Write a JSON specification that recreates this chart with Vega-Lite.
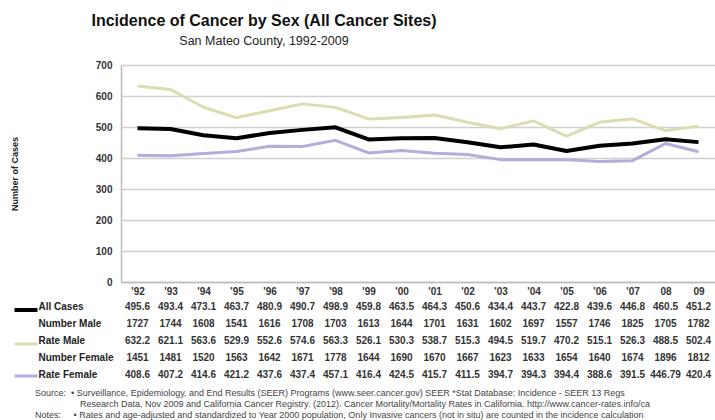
{
  "$schema": "https://vega.github.io/schema/vega-lite/v6.json",
  "padding": {"left": 10, "top": 12, "right": 0, "bottom": 0},
  "background": "white",
  "config": {"font": "Liberation Sans", "view": {"stroke": null}},
  "title": {
    "text": "Incidence of Cancer by Sex (All Cancer Sites)",
    "subtitle": "San Mateo County, 1992-2009",
    "font": "Liberation Sans",
    "fontSize": 16,
    "fontWeight": "bold",
    "color": "#111111",
    "subtitleFont": "Liberation Sans",
    "subtitleFontSize": 12.5,
    "subtitleColor": "#222222",
    "subtitlePadding": 6,
    "anchor": "middle",
    "frame": "group",
    "dx": -154,
    "offset": 13
  },
  "datasets": {
    "t": [
      {"row": "All Cases", "year": "'92", "value": 495.6},
      {"row": "All Cases", "year": "'93", "value": 493.4},
      {"row": "All Cases", "year": "'94", "value": 473.1},
      {"row": "All Cases", "year": "'95", "value": 463.7},
      {"row": "All Cases", "year": "'96", "value": 480.9},
      {"row": "All Cases", "year": "'97", "value": 490.7},
      {"row": "All Cases", "year": "'98", "value": 498.9},
      {"row": "All Cases", "year": "'99", "value": 459.8},
      {"row": "All Cases", "year": "'00", "value": 463.5},
      {"row": "All Cases", "year": "'01", "value": 464.3},
      {"row": "All Cases", "year": "'02", "value": 450.6},
      {"row": "All Cases", "year": "'03", "value": 434.4},
      {"row": "All Cases", "year": "'04", "value": 443.7},
      {"row": "All Cases", "year": "'05", "value": 422.8},
      {"row": "All Cases", "year": "'06", "value": 439.6},
      {"row": "All Cases", "year": "'07", "value": 446.8},
      {"row": "All Cases", "year": "08", "value": 460.5},
      {"row": "All Cases", "year": "09", "value": 451.2},
      {"row": "Number Male", "year": "'92", "value": 1727},
      {"row": "Number Male", "year": "'93", "value": 1744},
      {"row": "Number Male", "year": "'94", "value": 1608},
      {"row": "Number Male", "year": "'95", "value": 1541},
      {"row": "Number Male", "year": "'96", "value": 1616},
      {"row": "Number Male", "year": "'97", "value": 1708},
      {"row": "Number Male", "year": "'98", "value": 1703},
      {"row": "Number Male", "year": "'99", "value": 1613},
      {"row": "Number Male", "year": "'00", "value": 1644},
      {"row": "Number Male", "year": "'01", "value": 1701},
      {"row": "Number Male", "year": "'02", "value": 1631},
      {"row": "Number Male", "year": "'03", "value": 1602},
      {"row": "Number Male", "year": "'04", "value": 1697},
      {"row": "Number Male", "year": "'05", "value": 1557},
      {"row": "Number Male", "year": "'06", "value": 1746},
      {"row": "Number Male", "year": "'07", "value": 1825},
      {"row": "Number Male", "year": "08", "value": 1705},
      {"row": "Number Male", "year": "09", "value": 1782},
      {"row": "Rate Male", "year": "'92", "value": 632.2},
      {"row": "Rate Male", "year": "'93", "value": 621.1},
      {"row": "Rate Male", "year": "'94", "value": 563.6},
      {"row": "Rate Male", "year": "'95", "value": 529.9},
      {"row": "Rate Male", "year": "'96", "value": 552.6},
      {"row": "Rate Male", "year": "'97", "value": 574.6},
      {"row": "Rate Male", "year": "'98", "value": 563.3},
      {"row": "Rate Male", "year": "'99", "value": 526.1},
      {"row": "Rate Male", "year": "'00", "value": 530.3},
      {"row": "Rate Male", "year": "'01", "value": 538.7},
      {"row": "Rate Male", "year": "'02", "value": 515.3},
      {"row": "Rate Male", "year": "'03", "value": 494.5},
      {"row": "Rate Male", "year": "'04", "value": 519.7},
      {"row": "Rate Male", "year": "'05", "value": 470.2},
      {"row": "Rate Male", "year": "'06", "value": 515.1},
      {"row": "Rate Male", "year": "'07", "value": 526.3},
      {"row": "Rate Male", "year": "08", "value": 488.5},
      {"row": "Rate Male", "year": "09", "value": 502.4},
      {"row": "Number Female", "year": "'92", "value": 1451},
      {"row": "Number Female", "year": "'93", "value": 1481},
      {"row": "Number Female", "year": "'94", "value": 1520},
      {"row": "Number Female", "year": "'95", "value": 1563},
      {"row": "Number Female", "year": "'96", "value": 1642},
      {"row": "Number Female", "year": "'97", "value": 1671},
      {"row": "Number Female", "year": "'98", "value": 1778},
      {"row": "Number Female", "year": "'99", "value": 1644},
      {"row": "Number Female", "year": "'00", "value": 1690},
      {"row": "Number Female", "year": "'01", "value": 1670},
      {"row": "Number Female", "year": "'02", "value": 1667},
      {"row": "Number Female", "year": "'03", "value": 1623},
      {"row": "Number Female", "year": "'04", "value": 1633},
      {"row": "Number Female", "year": "'05", "value": 1654},
      {"row": "Number Female", "year": "'06", "value": 1640},
      {"row": "Number Female", "year": "'07", "value": 1674},
      {"row": "Number Female", "year": "08", "value": 1896},
      {"row": "Number Female", "year": "09", "value": 1812},
      {"row": "Rate Female", "year": "'92", "value": 408.6},
      {"row": "Rate Female", "year": "'93", "value": 407.2},
      {"row": "Rate Female", "year": "'94", "value": 414.6},
      {"row": "Rate Female", "year": "'95", "value": 421.2},
      {"row": "Rate Female", "year": "'96", "value": 437.6},
      {"row": "Rate Female", "year": "'97", "value": 437.4},
      {"row": "Rate Female", "year": "'98", "value": 457.1},
      {"row": "Rate Female", "year": "'99", "value": 416.4},
      {"row": "Rate Female", "year": "'00", "value": 424.5},
      {"row": "Rate Female", "year": "'01", "value": 415.7},
      {"row": "Rate Female", "year": "'02", "value": 411.5},
      {"row": "Rate Female", "year": "'03", "value": 394.7},
      {"row": "Rate Female", "year": "'04", "value": 394.3},
      {"row": "Rate Female", "year": "'05", "value": 394.4},
      {"row": "Rate Female", "year": "'06", "value": 388.6},
      {"row": "Rate Female", "year": "'07", "value": 391.5},
      {"row": "Rate Female", "year": "08", "value": 446.79},
      {"row": "Rate Female", "year": "09", "value": 420.4}
    ]
  },
  "data": {"name": "t"},
  "spacing": 2,
  "vconcat": [
    {
      "width": 594,
      "height": 217,
      "transform": [{"filter": {"field": "row", "oneOf": ["All Cases", "Rate Male", "Rate Female"]}}],
      "mark": {"type": "line", "strokeJoin": "round"},
      "encoding": {
        "x": {
          "field": "year", "type": "ordinal",
          "sort": ["'92","'93","'94","'95","'96","'97","'98","'99","'00","'01","'02","'03","'04","'05","'06","'07","08","09"],
          "scale": {"type": "point", "padding": 0.5},
          "axis": {"title": null, "labelAngle": 0, "ticks": false, "domain": true, "domainColor": "#bbbbbb", "domainWidth": 1.5, "labelPadding": 4, "labelFontSize": 10, "labelFontWeight": "bold", "labelColor": "#333333", "grid": false}
        },
        "y": {
          "field": "value", "type": "quantitative",
          "scale": {"domain": [0, 700]},
          "axis": {"title": "Number of Cases", "values": [0,100,200,300,400,500,600,700], "ticks": false, "domain": true, "domainColor": "#bbbbbb", "domainWidth": 1.5, "grid": true, "gridColor": "#d0d0d0", "gridWidth": 1.3, "labelPadding": 9, "labelFontSize": 10, "labelFontWeight": "bold", "labelColor": "#333333", "titleFontSize": 9, "titleFontWeight": "bold", "titleColor": "#222222", "minExtent": 100, "maxExtent": 100, "titlePadding": 2}
        },
        "color": {
          "field": "row", "type": "nominal",
          "scale": {"domain": ["All Cases", "Rate Male", "Rate Female"], "range": ["#000000", "#dcdcb2", "#b2aedc"]},
          "legend": {"orient": "none", "legendX": -100, "legendY": 240, "title": null, "symbolType": "stroke", "symbolSize": 529, "symbolStrokeWidth": 3, "labelExpr": "''", "rowPadding": 20, "padding": 0,
            "encode": {"symbols": {"update": {"strokeWidth": {"signal": "datum.value === 'All Cases' ? 4 : 3"}}}}}
        },
        "strokeWidth": {"condition": {"test": "datum.row === 'All Cases'", "value": 4}, "value": 3}
      }
    },
    {
      "width": 594,
      "height": 85,
      "mark": {"type": "text", "fontSize": 10, "fontWeight": "bold", "color": "#333333"},
      "encoding": {
        "x": {
          "field": "year", "type": "ordinal",
          "sort": ["'92","'93","'94","'95","'96","'97","'98","'99","'00","'01","'02","'03","'04","'05","'06","'07","08","09"],
          "scale": {"type": "point", "padding": 0.5},
          "axis": null
        },
        "y": {
          "field": "row", "type": "nominal",
          "sort": ["All Cases", "Number Male", "Rate Male", "Number Female", "Rate Female"],
          "scale": {"type": "point", "padding": 0.5},
          "axis": {"title": "\u00a0", "domain": false, "ticks": false, "grid": false, "labelAlign": "left", "labelPadding": 83, "labelFontSize": 10, "labelFontWeight": "bold", "labelColor": "#222222", "minExtent": 100, "maxExtent": 100, "titlePadding": 2, "titleFontSize": 9}
        },
        "text": {"field": "value", "type": "nominal"}
      },
      "title": {
        "text": [
          "Source:\u00a0\u00a0• Surveillance, Epidemiology, and End Results (SEER) Programs (www.seer.cancer.gov) SEER *Stat Database: Incidence - SEER 13 Regs",
          "\u200b\u00a0\u00a0\u00a0\u00a0\u00a0\u00a0\u00a0\u00a0\u00a0\u00a0\u00a0\u00a0\u00a0\u00a0\u00a0\u00a0\u00a0\u00a0Research Data, Nov 2009 and California Cancer Registry. (2012). Cancer Mortality/Mortality Rates in California. http://www.cancer-rates.info/ca",
          "Notes:\u00a0\u00a0\u00a0\u00a0\u00a0• Rates and age-adjusted and standardized to Year 2000 population, Only Invasive cancers (not in situ) are counted in the incidence calculation"
        ],
        "orient": "bottom",
        "anchor": "start",
        "frame": "group",
        "dx": -86,
        "offset": 6,
        "font": "Liberation Sans",
        "fontSize": 9,
        "fontWeight": "normal",
        "color": "#444444",
        "lineHeight": 11
      }
    }
  ]
}
